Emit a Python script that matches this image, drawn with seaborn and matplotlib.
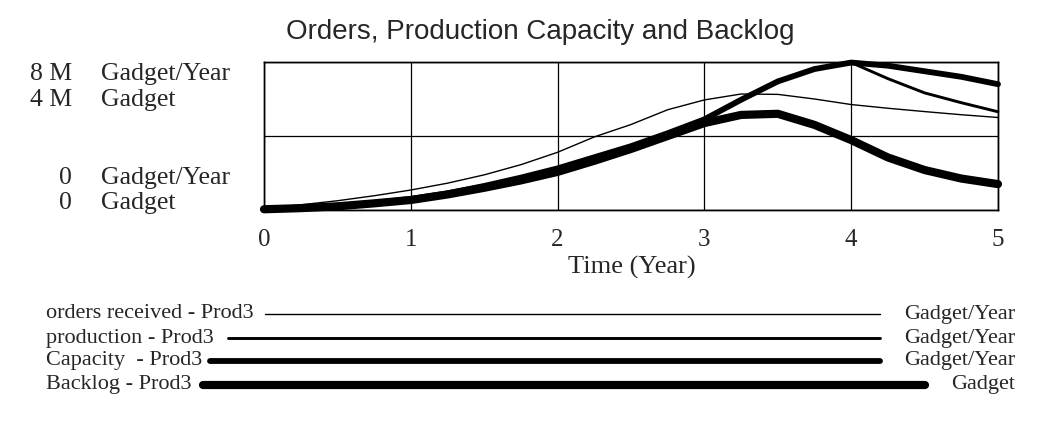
import matplotlib
matplotlib.use("Agg")
import matplotlib.pyplot as plt
import seaborn as sns
import pandas as pd
from matplotlib.lines import Line2D

# values (millions), every quarter year
time_years = [0, 0.25, 0.5, 0.75, 1, 1.25, 1.5, 1.75, 2, 2.25, 2.5,
              2.75, 3, 3.25, 3.5, 3.75, 4, 4.25, 4.5, 4.75, 5]
orders_received = [0.1, 0.28, 0.5, 0.77, 1.08, 1.45, 1.9, 2.45, 3.12, 3.95, 4.62,
                   5.42, 5.95, 6.27, 6.25, 6.0, 5.7, 5.5, 5.32, 5.15, 5.0]
production = [0.05, 0.1, 0.2, 0.38, 0.6, 0.9, 1.3, 1.75, 2.25, 2.85, 3.45,
              4.15, 4.9, 5.96, 6.95, 7.62, 7.97, 7.1, 6.33, 5.8, 5.31]
capacity = [0.05, 0.1, 0.2, 0.38, 0.6, 0.9, 1.3, 1.75, 2.25, 2.85, 3.45,
            4.15, 4.9, 5.96, 6.95, 7.62, 7.97, 7.8, 7.5, 7.2, 6.8]
backlog = [0.02, 0.05, 0.1, 0.18, 0.27, 0.42, 0.6, 0.8, 1.03, 1.33, 1.65,
           2.0, 2.35, 2.57, 2.6, 2.3, 1.89, 1.42, 1.08, 0.85, 0.7]

legend_names = ["orders received - Prod3", "production - Prod3",
                "Capacity  - Prod3", "Backlog - Prod3"]
legend_units = ["Gadget/Year", "Gadget/Year", "Gadget/Year", "Gadget"]
widths = [1.0, 2.1, 4.2, 5.9]

df = pd.DataFrame({"time": time_years, "orders": orders_received,
                   "production": production, "capacity": capacity,
                   "backlog": backlog})

sns.set_style("white")
plt.rcParams["font.family"] = ["Liberation Serif", "DejaVu Serif"]

W, H = 1056, 422
fig = plt.figure(figsize=(W / 100, H / 100), dpi=100)
ax = fig.add_axes([264 / W, 1 - 210 / H, (998 - 264) / W, 148 / H])
ax2 = ax.twinx()

line_kw = dict(color="black", solid_capstyle="round", clip_on=False)
sns.lineplot(data=df, x="time", y="orders", ax=ax, lw=widths[0], **line_kw)
sns.lineplot(data=df, x="time", y="production", ax=ax, lw=widths[1], **line_kw)
sns.lineplot(data=df, x="time", y="capacity", ax=ax, lw=widths[2], **line_kw)
sns.lineplot(data=df, x="time", y="backlog", ax=ax2, lw=widths[3], **line_kw)

ax.set_xlim(0, 5)
ax.set_ylim(0, 8)
ax2.set_ylim(0, 4)
ax.set_xticks(range(6))
ax.set_xticklabels([str(i) for i in range(6)], fontsize=18)
ax.set_yticks([0, 4, 8])
ax.set_yticklabels([])
ax2.set_yticks([])
ax.tick_params(length=0, pad=14)
ax.grid(True, color="black", lw=0.9)
ax.set_xlabel("")
ax.set_ylabel("")
ax2.set_ylabel("")
for a in (ax, ax2):
    for s in a.spines.values():
        s.set_color("black")
        s.set_linewidth(1)

fig.text(540 / W, 1 - 32 / H, "Orders, Production Capacity and Backlog",
         ha="center", va="center", fontsize=20, family=["Liberation Sans", "DejaVu Sans"])
fig.text(632 / W, 1 - 267 / H, "Time (Year)", ha="center", va="center", fontsize=19)

# left axis labels (two scales)
for num, unit, y in [("8 M", "Gadget/Year", 74), ("4 M", "Gadget", 100),
                     ("0", "Gadget/Year", 178), ("0", "Gadget", 203)]:
    fig.text(72 / W, 1 - y / H, num, ha="right", va="center", fontsize=18.5)
    fig.text(101 / W, 1 - y / H, unit, ha="left", va="center", fontsize=18.5)

# legend rows below the chart
rows_y = [314, 338, 361, 385]
starts = [265, 228, 210, 203]
ends = [880, 880, 880, 925]
for name, unit, lw, y, x0, x1 in zip(legend_names, legend_units, widths, rows_y, starts, ends):
    fig.text(46 / W, 1 - y / H, name, ha="left", va="center", fontsize=16)
    fig.text(1015 / W, 1 - y / H, unit, ha="right", va="center", fontsize=16)
    fig.add_artist(Line2D([x0 / W, x1 / W], [1 - y / H, 1 - y / H], color="black",
                          lw=lw, solid_capstyle="round", transform=fig.transFigure))

fig.savefig("out.png", dpi=100)
